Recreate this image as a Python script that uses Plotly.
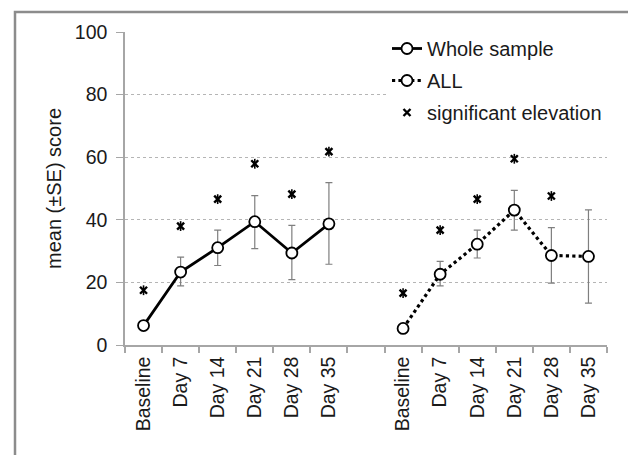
import plotly.graph_objects as go

# ---------------- data ----------------
categories = ["Baseline", "Day 7", "Day 14", "Day 21", "Day 28", "Day 35"]

whole_mean = [6.2, 23.3, 31.1, 39.4, 29.4, 38.7]
whole_err_plus = [0.0, 4.8, 5.6, 8.3, 8.8, 13.2]
whole_err_minus = [0.0, 4.4, 5.7, 8.6, 8.5, 12.9]
whole_sig = [17.5, 38.0, 46.6, 57.9, 48.2, 61.8]

all_mean = [5.3, 22.6, 32.2, 43.1, 28.6, 28.3]
all_err_plus = [0.0, 4.1, 4.5, 6.3, 8.9, 14.9]
all_err_minus = [0.0, 3.7, 4.4, 6.4, 8.8, 14.9]
all_sig = [16.6, 36.7, 46.6, 59.5, 47.6, None]

y_ticks = [0, 20, 40, 60, 80, 100]

# ---------------- positions (numeric slots, one empty slot between groups) ----------------
n = len(categories)
x_whole = list(range(n))
x_all = [i + n + 1 for i in range(n)]
tick_vals = x_whole + x_all
tick_text = categories + categories
boundaries = [i - 0.5 for i in range(2 * n + 2)]

FONT = "Liberation Sans, Arial, sans-serif"
GRAY = "#a6a6a6"
ERR = "#7f7f7f"

fig = go.Figure()

marker_circle = dict(symbol="circle", size=11, color="white",
                     line=dict(color="black", width=1.8))

fig.add_trace(go.Scatter(
    x=x_whole, y=whole_mean, mode="lines+markers", name="Whole sample",
    legendgroup="a",
    line=dict(color="black", width=2.8),
    marker=marker_circle,
    error_y=dict(type="data", symmetric=False, array=whole_err_plus,
                 arrayminus=whole_err_minus, color=ERR, thickness=1.2, width=3.5),
))

fig.add_trace(go.Scatter(
    x=x_all, y=all_mean, mode="lines+markers", name="ALL",
    legendgroup="b",
    line=dict(color="black", width=3.2, dash="dot"),
    marker=marker_circle,
    error_y=dict(type="data", symmetric=False, array=all_err_plus,
                 arrayminus=all_err_minus, color=ERR, thickness=1.2, width=3.5),
))

sig_marker = dict(symbol="x-thin-open", size=7, color="black",
                  line=dict(color="black", width=2.4))
sig_marker2 = dict(symbol="line-ns-open", size=7, color="black",
                   line=dict(color="black", width=1.6))

fig.add_trace(go.Scatter(
    x=x_whole, y=whole_sig, mode="markers", name="significant elevation",
    legendgroup="c", marker=sig_marker,
))
fig.add_trace(go.Scatter(
    x=x_all, y=all_sig, mode="markers", name="significant elevation",
    legendgroup="c", showlegend=False, marker=sig_marker,
))
fig.add_trace(go.Scatter(
    x=x_whole + x_all, y=whole_sig + all_sig, mode="markers",
    legendgroup="c", showlegend=False, marker=sig_marker2, hoverinfo="skip",
))

# page body offsets the figure by 8px; target plot area in window pixels:
# left 125, right 607, top 32, bottom 345
OFF = 8
W, H = 636 - OFF, 455 - OFF
L, R, T, B = 125 - OFF, 29, 32 - OFF, 110
pw, ph = W - L - R, H - T - B


def px_x(p):
    return (p - OFF - L) / pw


def px_y(p):
    return (H - B - (p - OFF)) / ph


frame = dict(color="#8c8c8c", width=2.5)
fx0, fx1, fy_top, fy_bot = px_x(15), px_x(630), px_y(12), px_y(470)
fig.add_shape(type="rect", xref="paper", yref="paper", layer="above",
              x0=fx0, x1=fx1, y0=fy_bot, y1=fy_top, line=frame,
              fillcolor="rgba(0,0,0,0)")

fig.update_layout(
    width=W, height=H,
    margin=dict(l=L, r=R, t=T, b=B),
    paper_bgcolor="white", plot_bgcolor="white",
    font=dict(family=FONT, color="#1a1a1a"),
    showlegend=True,
    legend=dict(x=px_x(387), y=px_y(29), xanchor="left", yanchor="top",
                bgcolor="white", font=dict(size=20, family=FONT, color="#1a1a1a"),
                traceorder="grouped", tracegroupgap=3, itemwidth=30),
)

fig.update_xaxes(
    range=[-0.5, 2 * n + 0.5],
    tickmode="array", tickvals=tick_vals, ticktext=tick_text,
    tickangle=-90, ticks="", ticklabelstandoff=2,
    tickfont=dict(size=19.5, family=FONT, color="#1a1a1a"),
    showline=True, linecolor=GRAY, linewidth=1.5,
    showgrid=False, zeroline=False,
    minor=dict(tickmode="array", tickvals=boundaries, ticks="outside",
               ticklen=6, tickcolor=GRAY, tickwidth=1.5, showgrid=False),
)

fig.update_yaxes(
    range=[0, 100], tickmode="array", tickvals=y_ticks,
    ticks="outside", ticklen=7, tickcolor=GRAY, tickwidth=1.2,
    ticklabelstandoff=5,
    tickfont=dict(size=19.5, family=FONT, color="#1a1a1a"),
    showline=True, linecolor=GRAY, linewidth=1.5,
    showgrid=True, gridcolor="#b5b5b5", gridwidth=1, griddash="dot",
    zeroline=False,
    title=dict(text="mean (±SE) score", font=dict(size=20, family=FONT, color="#1a1a1a"),
               standoff=8),
)

fig.write_html("out.html")
